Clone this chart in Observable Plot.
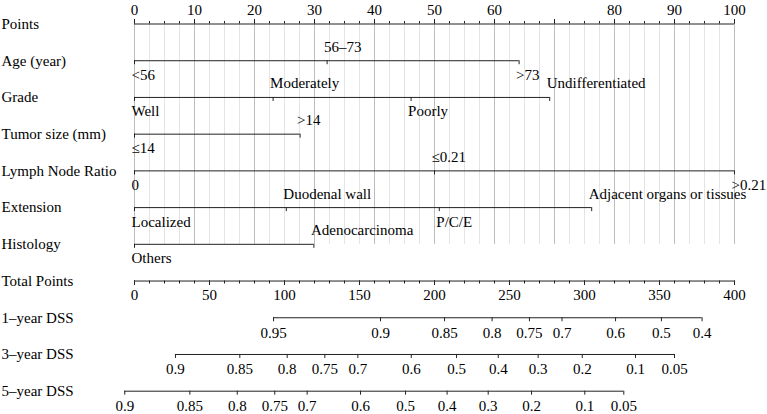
<!DOCTYPE html>
<html><head><meta charset="utf-8">
<script src="https://cdn.jsdelivr.net/npm/d3@7"></script>
<script src="https://cdn.jsdelivr.net/npm/@observablehq/plot@0.6"></script>
<style>body{margin:0;background:#fff} #chart{width:767px;height:414px}</style>
</head><body><div id="chart"></div>
<script>
// ---- data ----
const rows = ["Points","Age (year)","Grade","Tumor size (mm)","Lymph Node Ratio","Extension","Histology","Total Points","1–year DSS","3–year DSS","5–year DSS"];

const pointsTickValues = [0,10,20,30,40,50,60,70,80,90,100];
const pointsTickLabels = ["0","10","20","30","40","50","60","","80","90","100"]; // 70 not printed
const pointsMinorStep = 2.5;

const ageLevels = ["<56","56–73",">73"];
const agePoints = [0, 32.1, 64.1];
const gradeLevels = ["Well","Moderately","Poorly","Undifferentiated"];
const gradePoints = [0, 23.1, 46.1, 69.2];
const tumorLevels = ["≤14",">14"];
const tumorPoints = [0, 27.6];
const lnrLevels = ["0","≤0.21",">0.21"];
const lnrPoints = [0, 50, 100];
const extLevels = ["Localized","Duodenal wall","P/C/E","Adjacent organs or tissues"];
const extPoints = [0, 25.3, 50.8, 76.2];
const histLevels = ["Others","Adenocarcinoma"];
const histPoints = [0, 29.9];

const totalTickValues = [0,50,100,150,200,250,300,350,400];
const totalMinorStep = 10;
const totalMax = 400;

const dss1Labels = ["0.95","0.9","0.85","0.8","0.75","0.7","0.6","0.5","0.4"];
const dss1Total  = [92.7, 164, 206.7, 238.4, 263.3, 285, 320.7, 351.3, 378.4];
const dss3Labels = ["0.9","0.85","0.8","0.75","0.7","0.6","0.5","0.4","0.3","0.2","0.1","0.05"];
const dss3Total  = [27.3, 70.2, 101.8, 126.9, 148.9, 184.5, 214.7, 242.5, 269.1, 298.5, 334, 360];
const dss5Labels = ["0.9","0.85","0.8","0.75","0.7","0.6","0.5","0.4","0.3","0.2","0.1","0.05"];
const dss5Total  = [-6.5, 36.9, 68.5, 93.5, 115.1, 150.7, 180.7, 208.4, 235.8, 264.7, 300.2, 326.2];

// ---- derived tables ----
const Y0 = 23.5, Y1 = 390.7;
const unit = (Y1 - Y0) / (rows.length - 1);   // px per row
const px = p => p / unit;                      // pixel offset -> row units
const R = name => rows.indexOf(name);
const toPts = tp => tp * 100 / totalMax;
const minorGrid = d3.range(0, 100 + 1e-9, pointsMinorStep);
const varRows = [
  {row:"Age (year)", levels:ageLevels, points:agePoints},
  {row:"Grade", levels:gradeLevels, points:gradePoints},
  {row:"Tumor size (mm)", levels:tumorLevels, points:tumorPoints},
  {row:"Lymph Node Ratio", levels:lnrLevels, points:lnrPoints},
  {row:"Extension", levels:extLevels, points:extPoints},
  {row:"Histology", levels:histLevels, points:histPoints}
];
const levels = varRows.flatMap(v => v.levels.map((l,i)=>({r:R(v.row), label:l, x:v.points[i], i})));
const varSegs = varRows.map(v => ({r:R(v.row), x1:d3.min(v.points), x2:d3.max(v.points)}));
const dssRows = [
  {row:"1–year DSS", labels:dss1Labels, tp:dss1Total},
  {row:"3–year DSS", labels:dss3Labels, tp:dss3Total},
  {row:"5–year DSS", labels:dss5Labels, tp:dss5Total}
];
const dssTicks = dssRows.flatMap(s => s.labels.map((l,i)=>({r:R(s.row), label:l, x:toPts(s.tp[i])})));
const dssSegs = dssRows.map(s => ({r:R(s.row), x1:toPts(d3.min(s.tp)), x2:toPts(d3.max(s.tp))}));
const totalMinor = d3.range(0, totalMax + 1e-9, totalMinorStep).map(toPts);
const pointsLabelTable = pointsTickValues.map((v,i)=>({x:v, label:pointsTickLabels[i]}));
const rP = R("Points"), rH = R("Histology"), rT = R("Total Points");

const FONT = "'Liberation Serif', 'Times New Roman', Times, serif";
const LINE = "#222";
const fs = 15;

const chart = Plot.plot({
  width: 767, height: 414,
  marginLeft: 0, marginRight: 0, marginTop: 0, marginBottom: 0,
  x: {domain: [0, 100], range: [134, 734], axis: null},
  y: {domain: [0, rows.length - 1], range: [Y0, Y1], axis: null},
  style: {fontFamily: FONT, fontSize: fs + "px", background: "#fff", color: "#000"},
  marks: [
    // grid
    Plot.ruleX(minorGrid, {x: d => d, y1: rP, y2: rH, stroke: "#e4e4e4", strokeWidth: 1}),
    Plot.ruleX(pointsTickValues, {x: d => d, y1: rP, y2: rH, stroke: "#bdbdbd", strokeWidth: 1}),
    // Points axis
    Plot.ruleY([rP], {y: d => d, x1: 0, x2: 100, stroke: LINE}),
    Plot.ruleX(minorGrid, {x: d => d, y1: rP - px(2.5), y2: rP, stroke: LINE}),
    Plot.ruleX(pointsTickValues, {x: d => d, y1: rP - px(4.5), y2: rP, stroke: LINE}),
    Plot.text(pointsLabelTable, {x: "x", y: () => rP, text: "label", lineAnchor: "bottom", dy: -9.5, fontSize: fs, fill: "#000"}),
    // variable rows
    Plot.ruleY(varSegs, {y: "r", x1: "x1", x2: "x2", stroke: LINE}),
    Plot.ruleX(levels, {x: "x", y1: "r", y2: d => d.r + px(4), stroke: LINE}),
    Plot.text(levels, {filter: d => d.i % 2 === 1, x: "x", y: "r", text: "label", textAnchor: "start", dx: -3, lineAnchor: "bottom", dy: -9, fontSize: fs, fill: "#000"}),
    Plot.text(levels, {filter: d => d.i % 2 === 0, x: "x", y: "r", text: "label", textAnchor: "start", dx: -3, lineAnchor: "bottom", dy: 19, fontSize: fs, fill: "#000"}),
    // Total points axis
    Plot.ruleY([rT], {y: d => d, x1: 0, x2: 100, stroke: LINE}),
    Plot.ruleX(totalMinor, {x: d => d, y1: rT, y2: rT + px(3), stroke: LINE}),
    Plot.ruleX(totalTickValues, {x: d => toPts(d), y1: rT, y2: rT + px(4.5), stroke: LINE}),
    Plot.text(totalTickValues, {x: d => toPts(d), y: () => rT, text: d => String(d), lineAnchor: "bottom", dy: 19, fontSize: fs, fill: "#000"}),
    // DSS axes
    Plot.ruleY(dssSegs, {y: "r", x1: "x1", x2: "x2", stroke: LINE}),
    Plot.ruleX(dssTicks, {x: "x", y1: "r", y2: d => d.r + px(4), stroke: LINE}),
    Plot.text(dssTicks, {x: "x", y: "r", text: "label", lineAnchor: "bottom", dy: 20, fontSize: fs, fill: "#000"}),
    // row labels
    Plot.text(rows, {y: (d, i) => i, text: d => d, frameAnchor: "left", textAnchor: "start", dx: 1, fontSize: fs, fill: "#000"})
  ]
});
document.getElementById("chart").appendChild(chart);
</script>
</body></html>
